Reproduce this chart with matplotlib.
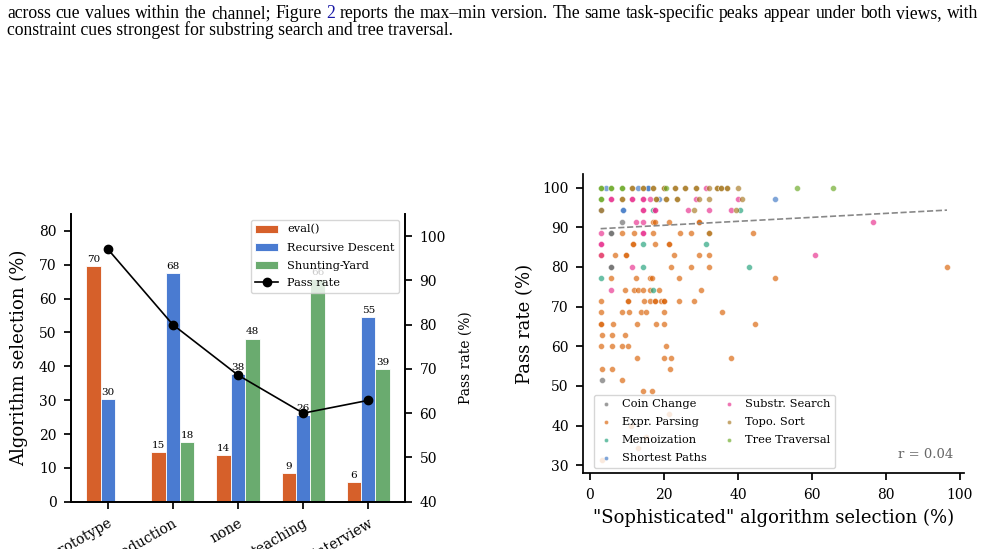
import numpy as np
import matplotlib
matplotlib.use("Agg")
import matplotlib.pyplot as plt

plt.rcParams['font.family'] = 'DejaVu Serif'
plt.rcParams['axes.linewidth'] = 1.25
plt.rcParams['xtick.major.width'] = 1.25
plt.rcParams['ytick.major.width'] = 1.25
plt.rcParams['xtick.major.size'] = 4.8
plt.rcParams['ytick.major.size'] = 4.8
plt.rcParams['xtick.major.pad'] = 5.6
plt.rcParams['ytick.major.pad'] = 5.6
plt.rcParams['xtick.labelsize'] = 10
plt.rcParams['ytick.labelsize'] = 10

# ---- page text above the figures
text_line1 = ["across", "cue", "values", "within", "the", "channel;", "Figure", "2", "reports", "the",
              "max\u2013min", "version.", "The", "same", "task-specific", "peaks", "appear", "under",
              "both", "views,", "with"]
text_line2 = "constraint cues strongest for substring search and tree traversal."

# ---- left: algorithm selection by context
contexts = ["prototype", "production", "none", "teaching", "interview"]
eval_sel = [69.6, 14.6, 13.7, 8.6, 5.8]
rd_sel = [30.2, 67.6, 37.8, 25.7, 54.6]
sy_sel = [0.0, 17.6, 48.2, 65.7, 39.3]
pass_rate = [97.1, 80.0, 68.6, 60.0, 62.9]

# ---- right: (sophisticated selection %, pass rate %) per task
coin_change = [(2.9, 94.3), (8.6, 91.4), (5.7, 88.6), (5.7, 88.6), (5.7, 80.0), (5.7, 80.0), (3.3, 51.4)]
expr_parsing = [(17.1, 91.4), (17.6, 91.4), (21.3, 91.4), (29.4, 91.4), (29.4, 91.4),
                (8.8, 88.6), (11.8, 88.6), (17.1, 88.6), (24.3, 88.6), (27.3, 88.6), (32.3, 88.6), (44.2, 88.6),
                (11.7, 85.7), (11.7, 85.7), (17.6, 85.7), (21.3, 85.7), (21.3, 85.7),
                (2.9, 82.9), (6.7, 82.9), (9.7, 82.9), (9.7, 82.9), (22.8, 82.9), (29.4, 82.9), (32.3, 82.9),
                (21.9, 80.0), (27.3, 80.0), (32.3, 80.0), (96.5, 80.0),
                (5.7, 77.1), (12.5, 77.1), (16.3, 77.1), (16.8, 77.1), (24.2, 77.1), (50.0, 77.1),
                (9.4, 74.3), (11.8, 74.3), (13.0, 74.3), (14.4, 74.3), (16.3, 74.3), (18.7, 74.3), (30.0, 74.3),
                (3.0, 71.4), (10.2, 71.4), (10.2, 71.4), (14.5, 71.4), (16.3, 71.4), (17.6, 71.4), (17.6, 71.4),
                (19.3, 71.4), (20.0, 71.4), (20.0, 71.4), (24.2, 71.4), (28.2, 71.4),
                (2.9, 68.6), (8.6, 68.6), (10.7, 68.6), (13.7, 68.6), (15.2, 68.6), (19.9, 68.6), (35.8, 68.6),
                (2.9, 65.7), (2.9, 65.7), (6.2, 65.7), (12.8, 65.7), (17.8, 65.7), (19.9, 65.7), (44.5, 65.7),
                (3.2, 62.9), (6.1, 62.9), (9.6, 62.9),
                (2.9, 60.0), (5.9, 60.0), (8.6, 60.0), (10.4, 60.0), (20.7, 60.0),
                (12.6, 57.1), (20.0, 57.1), (22.0, 57.1), (38.0, 57.1),
                (3.3, 54.3), (5.9, 54.3), (21.6, 54.3), (8.8, 51.4), (14.4, 48.6), (16.8, 48.6),
                (21.3, 42.9), (11.1, 40.0), (15.2, 37.1), (12.9, 34.3), (3.4, 31.4)]
memoization = [(17.1, 94.3), (40.7, 94.3), (14.3, 85.7), (31.4, 85.7), (14.3, 80.0), (42.9, 80.0),
               (2.9, 77.1), (17.1, 74.3)]
shortest_paths = [(4.3, 100.0), (13.0, 100.0), (15.8, 100.0), (15.8, 100.0), (18.7, 97.1), (50.0, 97.1),
                  (9.0, 94.3), (9.0, 94.3)]
substr_search = [(31.4, 100.0), (5.7, 97.1), (5.7, 97.1), (11.4, 97.1), (11.4, 97.1), (14.3, 97.1), (14.3, 97.1),
                 (16.3, 97.1), (28.6, 97.1), (40.0, 97.1), (14.3, 94.3), (14.3, 94.3), (17.6, 94.3), (17.6, 94.3),
                 (26.5, 94.3), (32.3, 94.3), (38.2, 94.3), (12.5, 91.4), (14.3, 91.4), (76.5, 91.4),
                 (2.9, 88.6), (14.3, 88.6), (14.3, 88.6), (2.9, 85.7), (2.9, 85.7), (2.9, 82.9), (60.7, 82.9),
                 (11.4, 80.0), (5.7, 74.3)]
topo_sort = [(11.4, 100.0), (11.4, 100.0), (14.3, 100.0), (14.3, 100.0), (17.1, 100.0), (17.1, 100.0),
             (20.0, 100.0), (20.0, 100.0), (22.9, 100.0), (22.9, 100.0), (25.7, 100.0), (25.7, 100.0),
             (28.6, 100.0), (28.6, 100.0), (32.3, 100.0), (34.3, 100.0), (34.3, 100.0), (35.3, 100.0),
             (35.3, 100.0), (37.1, 100.0), (37.1, 100.0), (40.0, 100.0),
             (8.6, 97.1), (8.6, 97.1), (17.9, 97.1), (17.9, 97.1), (20.7, 97.1), (20.7, 97.1), (23.5, 97.1),
             (23.5, 97.1), (29.6, 97.1), (32.3, 97.1), (41.2, 97.1),
             (2.9, 94.3), (28.2, 94.3), (39.5, 94.3), (32.3, 88.6)]
tree_traversal = [(2.9, 100.0), (2.9, 100.0), (5.7, 100.0), (5.7, 100.0), (8.6, 100.0), (8.6, 100.0),
                  (20.7, 100.0), (55.9, 100.0), (65.8, 100.0), (2.9, 97.1), (2.9, 97.1)]

task_names = ["Coin Change", "Expr. Parsing", "Memoization", "Shortest Paths",
              "Substr. Search", "Topo. Sort", "Tree Traversal"]
task_points = [coin_change, expr_parsing, memoization, shortest_paths,
               substr_search, topo_sort, tree_traversal]
task_colors = ["#666666", "#d95f02", "#1b9e77", "#3b75c4", "#e7298a", "#a6761d", "#66a61e"]

# trend line as drawn in the figure
fit_intercept = 89.5
fit_slope = 0.05
r_label = "r = 0.04"

W, H = 985, 549
fig = plt.figure(figsize=(W / 100, H / 100), dpi=100)

# ---------------- page text
renderer = fig.canvas.get_renderer()
probe = fig.text(0, 0, " ".join(text_line1), family='Liberation Serif', fontsize=10)
w10 = probe.get_window_extent(renderer).width
probe.remove()
fs = 10 * 962 / w10
fig.text(7 / W, 1 - 35 / H, text_line2, family='Liberation Serif', fontsize=fs, va='baseline')
words = []
for wd in text_line1:
    t = fig.text(0, 1 - 18 / H, wd, family='Liberation Serif', fontsize=fs, va='baseline',
                 color='#1a1aa6' if wd == "2" else 'black')
    words.append((t, t.get_window_extent(renderer).width))
gap = (978 - 7 - sum(w for _, w in words)) / (len(words) - 1)
xpos = 7
for t, w in words:
    t.set_x(xpos / W)
    xpos += w + gap

# ---------------- left panel
ax = fig.add_axes([71 / W, 1 - 501.7 / H, 334 / W, 287.7 / H])
x = np.arange(len(contexts))
bw = 0.22
b1 = ax.bar(x - bw, eval_sel, bw, color="#d6602a", edgecolor='white', linewidth=0.6, label="eval()")
b2 = ax.bar(x, rd_sel, bw, color="#4a7bd1", edgecolor='white', linewidth=0.6, label="Recursive Descent")
b3 = ax.bar(x + bw, sy_sel, bw, color="#6aab6f", edgecolor='white', linewidth=0.6, label="Shunting-Yard")
for bars, vals in [(b1, eval_sel), (b2, rd_sel), (b3, sy_sel)]:
    ax.bar_label(bars, labels=[f"{v:.0f}" if v > 0 else "" for v in vals], fontsize=7.5, padding=1.5)
ax.set_ylim(0, 85)
ax.set_yticks(range(0, 81, 10))
ax.set_xticks(x)
ax.set_xticklabels(contexts, rotation=30, ha='right', rotation_mode='anchor', fontsize=10)
ax.set_ylabel("Algorithm selection (%)", fontsize=13, labelpad=8)
ax.spines['top'].set_visible(False)

ax2 = ax.twinx()
ln, = ax2.plot(x, pass_rate, 'o-', color='black', ms=6, lw=1.2, label="Pass rate")
ax2.set_ylim(40, 105)
ax2.set_yticks(range(40, 101, 10))
ax2.set_ylabel("Pass rate (%)", fontsize=10, labelpad=9)
ax2.spines['top'].set_visible(False)
ax2.legend([b1, b2, b3, ln], ["eval()", "Recursive Descent", "Shunting-Yard", "Pass rate"],
           loc='upper right', fontsize=8.2, labelspacing=0.7)

# ---------------- right panel
sx = fig.add_axes([583.3 / W, 1 - 473.3 / H, 381 / W, 299.3 / H])
all_x = []
for name, pts, col in zip(task_names, task_points, task_colors):
    px, py = np.array(pts).T
    sx.scatter(px, py, s=18, color=col, alpha=0.65, edgecolor='white', linewidth=0.4, label=name)
    all_x.extend(px)
xs = np.array([min(all_x), max(all_x)])
sx.plot(xs, fit_intercept + fit_slope * xs, ls='--', color='#888888', lw=1.2)
sx.text(0.97, 0.04, r_label, transform=sx.transAxes, ha='right', va='bottom',
        fontsize=9.5, color='#666666')
sx.set_yticks(range(30, 101, 10))
sx.set_xticks(range(0, 101, 20))
sx.set_xlabel('"Sophisticated" algorithm selection (%)', fontsize=13, labelpad=5)
sx.set_ylabel("Pass rate (%)", fontsize=13, labelpad=6)
sx.spines['top'].set_visible(False)
sx.spines['right'].set_visible(False)
sx.legend(loc='lower left', bbox_to_anchor=(0.028, 0.018), borderaxespad=0, ncol=2,
          fontsize=8.2, handlelength=1.3, handletextpad=0.75, columnspacing=1.3,
          labelspacing=0.7, markerscale=0.7, scatterpoints=1)

fig.savefig("out.png", dpi=100)
